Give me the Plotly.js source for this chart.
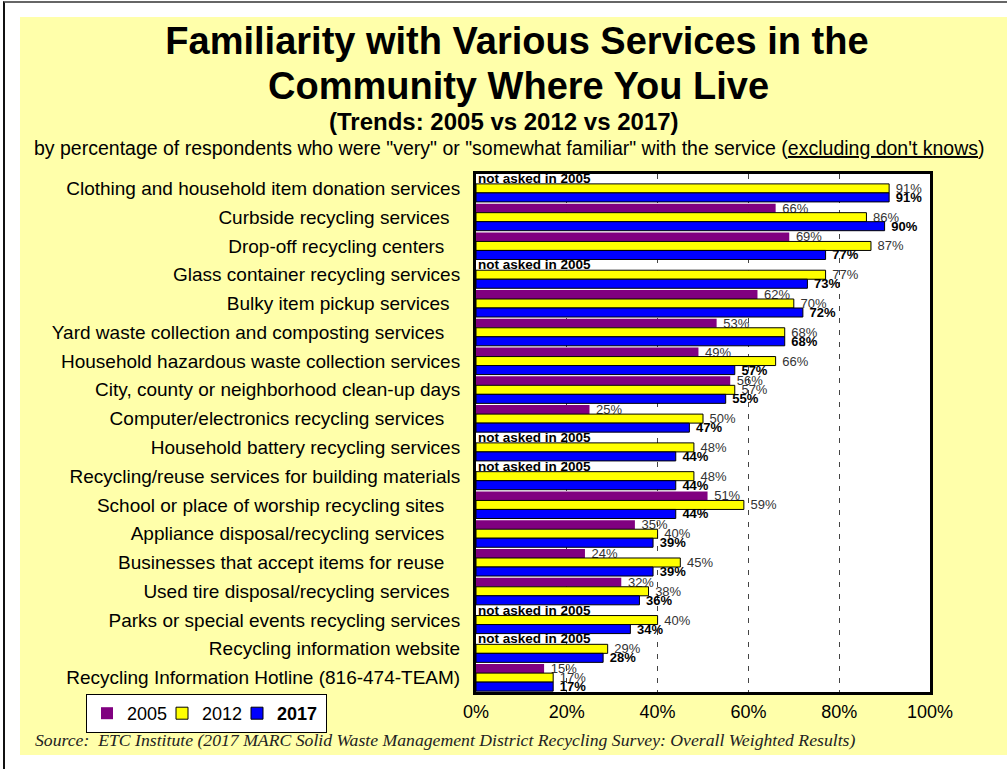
<!DOCTYPE html>
<html><head><meta charset="utf-8">
<script src="https://cdn.plot.ly/plotly-3.0.1.min.js"></script>
<style>
html,body{margin:0;padding:0;background:#fff;width:1007px;height:769px;overflow:hidden;}
#frame{position:absolute;left:3px;top:1px;width:1010px;height:800px;border-top:2px solid #666;border-left:2px solid #111;}
#panel{position:absolute;left:20px;top:17px;width:987px;height:738px;background:#FFFFAA;}
#chart{position:absolute;left:0;top:0;width:1007px;height:769px;}
</style></head><body>
<div id="frame"></div><div id="panel"></div><div id="chart"></div>
<script>
const categories = [
  "Clothing and household item donation services",
  "Curbside recycling services",
  "Drop-off recycling centers",
  "Glass container recycling services",
  "Bulky item pickup services",
  "Yard waste collection and composting services",
  "Household hazardous waste collection services",
  "City, county or neighborhood clean-up days",
  "Computer/electronics recycling services",
  "Household battery recycling services",
  "Recycling/reuse services for building materials",
  "School or place of worship recycling sites",
  "Appliance disposal/recycling services",
  "Businesses that accept items for reuse",
  "Used tire disposal/recycling services",
  "Parks or special events recycling services",
  "Recycling information website",
  "Recycling Information Hotline (816-474-TEAM)"
];
const values2005 = [null, 66, 69, null, 62, 53, 49, 56, 25, null, null, 51, 35, 24, 32, null, null, 15];
const values2012 = [91, 86, 87, 77, 70, 68, 66, 57, 50, 48, 48, 59, 40, 45, 38, 40, 29, 17];
const values2017 = [91, 90, 77, 73, 72, 68, 57, 55, 47, 44, 44, 44, 39, 39, 36, 34, 28, 17];
const seriesNames = ["2005", "2012", "2017"];
const xTickVals = [0, 20, 40, 60, 80, 100];
const xTickLabels = ["0%", "20%", "40%", "60%", "80%", "100%"];
const notAskedLabel = "not asked in 2005";
const titleLines = ["Familiarity with Various Services in the", "Community Where You Live"];

// trailing spacing of the original labels (layout only)
const labelPad = [0,2,3,0,2,3,0,0,3,0,0,3,3,3,2,0,0,0];
const tickText = categories.map((c, i) => c + "\u00a0".repeat(labelPad[i]));

const F = "Arial, 'Liberation Sans', sans-serif";
const NB = "\u00a0";

const traces = [
  {
    type: "bar", orientation: "h", name: seriesNames[0],
    y: categories, x: values2005,
    marker: {color: "#800080", line: {color: "#000", width: 0}},
    text: values2005.map(v => v == null ? "" : NB + v + "%"),
    textposition: "outside", constraintext: "none", cliponaxis: false,
    textfont: {family: F, size: 13, color: "#333"},
    hoverinfo: "x+y"
  },
  {
    type: "bar", orientation: "h", name: seriesNames[1],
    y: categories, x: values2012,
    marker: {color: "#FFFF00", line: {color: "#000", width: 1}},
    text: values2012.map(v => NB + v + "%"),
    textposition: "outside", constraintext: "none", cliponaxis: false,
    textfont: {family: F, size: 13, color: "#333"},
    hoverinfo: "x+y"
  },
  {
    type: "bar", orientation: "h", name: "<b>" + seriesNames[2] + "</b>",
    y: categories, x: values2017, legendwidth: 44,
    marker: {color: "#0000FF", line: {color: "#000", width: 1}},
    text: values2017.map(v => "<b>" + NB + v + "%</b>"),
    textposition: "outside", constraintext: "none", cliponaxis: false,
    textfont: {family: F, size: 13, color: "#000"},
    hoverinfo: "x+y"
  }
];

const annotations = [];
categories.forEach((c, i) => {
  if (values2005[i] == null) {
    annotations.push({
      x: 0, y: c, xref: "x", yref: "y", xanchor: "left", yanchor: "middle",
      yshift: 10, text: "<b>" + notAskedLabel + "</b>", showarrow: false,
      font: {family: F, size: 13.5, color: "#000"}
    });
  }
});
// plot area: x 476..930, y 174..692
const px = v => (v - 476) / 454;
const py = v => (692 - v) / 518;
annotations.push({
  xref: "paper", yref: "paper", x: px(518), y: py(86), xanchor: "center", yanchor: "middle",
  text: "<b>" + titleLines[1] + "</b>", showarrow: false,
  font: {family: F, size: 38, color: "#000"}
});
annotations.push({
  xref: "paper", yref: "paper", x: px(504), y: py(121), xanchor: "center", yanchor: "middle",
  text: "<b>(Trends: 2005 vs 2012 vs 2017)</b>", showarrow: false,
  font: {family: F, size: 24, color: "#000"}
});
annotations.push({
  xref: "paper", yref: "paper", x: px(509.5), y: py(148), xanchor: "center", yanchor: "middle",
  text: 'by percentage of respondents who were "very" or "somewhat familiar" with the service (<span style="text-decoration:underline">excluding don\'t knows</span>)',
  showarrow: false, font: {family: F, size: 19.5, color: "#000"}
});
annotations.push({
  xref: "paper", yref: "paper", x: px(33), y: py(740), xanchor: "left", yanchor: "middle",
  text: "<i>Source:" + NB + " ETC Institute (2017 MARC Solid Waste Management District Recycling Survey: Overall Weighted Results)</i>",
  showarrow: false, font: {family: "'Times New Roman', 'Liberation Serif', serif", size: 17.7, color: "#222"}
});

const layout = {
  width: 1007, height: 769,
  margin: {l: 476, r: 77, t: 174, b: 77, pad: 0},
  paper_bgcolor: "rgba(0,0,0,0)",
  plot_bgcolor: "#fff",
  barmode: "group", bargap: 0.06, bargroupgap: 0,
  showlegend: true,
  title: {
    text: "<b>" + titleLines[0] + "</b>",
    xref: "container", yref: "container", x: 517 / 1007, y: 1 - 41 / 769,
    xanchor: "center", yanchor: "middle",
    font: {family: F, size: 38, color: "#000"}
  },
  xaxis: {
    range: [0, 100], tickvals: xTickVals, ticktext: xTickLabels,
    showgrid: true, gridcolor: "#444", gridwidth: 1, griddash: "5px,7px",
    zeroline: false, showline: true, mirror: true, linecolor: "#000", linewidth: 3,
    ticks: "", ticklabelstandoff: 1,
    tickfont: {family: F, size: 18, color: "#000"}, fixedrange: true
  },
  yaxis: {
    type: "category", autorange: "reversed",
    tickvals: categories, ticktext: tickText,
    showgrid: false, zeroline: false, showline: true, mirror: true, linecolor: "#000", linewidth: 3,
    ticks: "", ticklabelstandoff: 9,
    tickfont: {family: F, size: 19, color: "#000"}, fixedrange: true
  },
  legend: {
    orientation: "h", x: px(86), y: py(694), xanchor: "left", yanchor: "top",
    bgcolor: "#fff", bordercolor: "#000", borderwidth: 1, entrywidth: 30,
    font: {family: F, size: 18, color: "#000"}, traceorder: "normal"
  },
  annotations: annotations
};

Plotly.newPlot("chart", traces, layout, {displayModeBar: false, staticPlot: true});
</script>
</body></html>
